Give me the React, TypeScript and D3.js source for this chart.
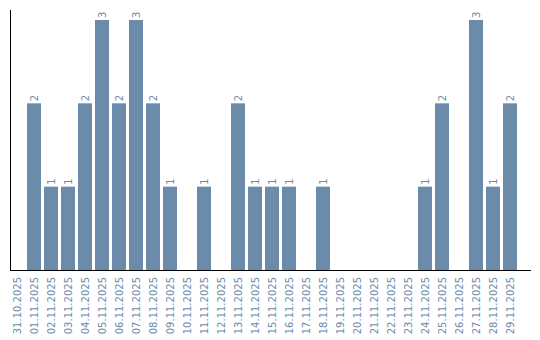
import React from "react";
import * as d3 from "d3";

const categories: string[] = [
  "31.10.2025", "01.11.2025", "02.11.2025", "03.11.2025", "04.11.2025",
  "05.11.2025", "06.11.2025", "07.11.2025", "08.11.2025", "09.11.2025",
  "10.11.2025", "11.11.2025", "12.11.2025", "13.11.2025", "14.11.2025",
  "15.11.2025", "16.11.2025", "17.11.2025", "18.11.2025", "19.11.2025",
  "20.11.2025", "21.11.2025", "22.11.2025", "23.11.2025", "24.11.2025",
  "25.11.2025", "26.11.2025", "27.11.2025", "28.11.2025", "29.11.2025",
];
const values: number[] = [
  0, 2, 1, 1, 2, 3, 2, 3, 2, 1,
  0, 1, 0, 2, 1, 1, 1, 0, 1, 0,
  0, 0, 0, 0, 1, 2, 0, 3, 1, 2,
];

const W = 540;
const H = 340;
const BAR = "#6b8bab";
const TXT = "#6b8bab";

export default function App() {
  const p = 3 / 17;
  const x = d3
    .scaleBand<string>()
    .domain(categories)
    .range([10, 10 + 17 * (categories.length - p)])
    .paddingInner(p)
    .paddingOuter(0);
  const y = d3.scaleLinear().domain([0, 3]).range([270, 20]);
  const font = "'DejaVu Sans', Verdana, sans-serif";

  return (
    <svg
      width={W}
      height={H}
      style={{ position: "absolute", left: 0, top: 0, background: "#fff" }}
    >
      {categories.map((c, i) => {
        const v = values[i];
        if (!v) return null;
        const bx = x(c)!;
        return (
          <rect
            key={"b" + c}
            x={bx}
            y={y(v)}
            width={x.bandwidth()}
            height={y(0) - y(v)}
            fill={BAR}
          />
        );
      })}
      {categories.map((c, i) => {
        const v = values[i];
        if (!v) return null;
        const cx = x(c)! + x.bandwidth() / 2;
        const ty = y(v) - 2;
        return (
          <text
            key={"l" + c}
            transform={`translate(${cx},${ty}) rotate(-90)`}
            dy="0.35em"
            textAnchor="start"
            fontFamily={font}
            fontSize={10}
            fill={TXT}
          >
            {v}
          </text>
        );
      })}
      {categories.map((c) => {
        const cx = x(c)! + x.bandwidth() / 2;
        return (
          <text
            key={"t" + c}
            transform={`translate(${cx},277) rotate(-90)`}
            dy="0.35em"
            textAnchor="end"
            fontFamily={font}
            fontSize={10}
            fill={TXT}
          >
            {c}
          </text>
        );
      })}
      <line x1={10.5} x2={10.5} y1={10} y2={270} stroke="#000" strokeWidth={1} />
      <line x1={10} x2={531} y1={270.5} y2={270.5} stroke="#000" strokeWidth={1} />
    </svg>
  );
}
